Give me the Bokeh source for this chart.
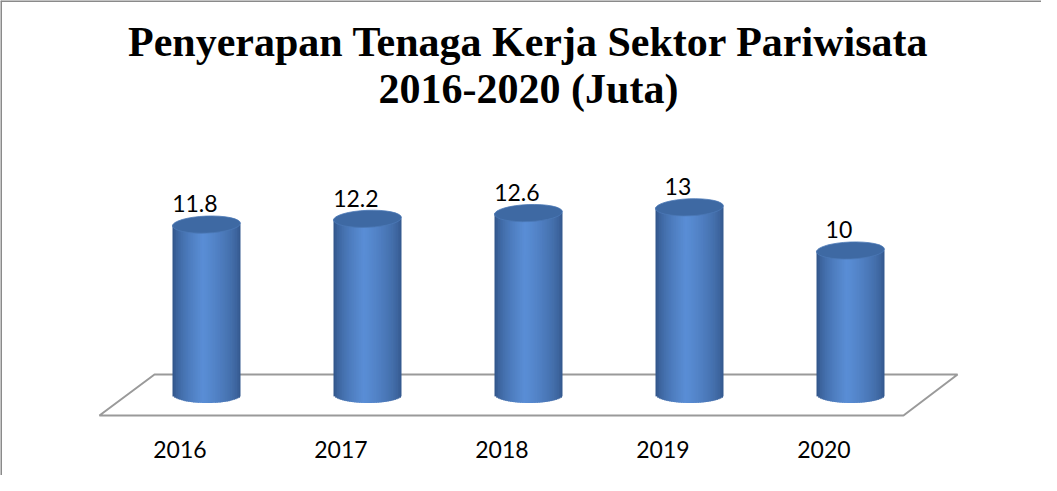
import numpy as np
from bokeh.plotting import figure
from bokeh.models import Range1d, Span
from bokeh.core.properties import value
from bokeh.embed import file_html
from bokeh.resources import INLINE

years = ["2016", "2017", "2018", "2019", "2020"]
workers = [11.8, 12.2, 12.6, 13, 10]
value_labels = ["11.8", "12.2", "12.6", "13", "10"]
title_lines = ["Penyerapan Tenaga Kerja Sektor Pariwisata", "2016-2020 (Juta)"]

W, H = 1041, 475
PX_PER_CAT = 161.0
PX_PER_UNIT = 14.4
X0_PX = 206.0   # canvas px of first category centre
Y0_PX = 394.0   # canvas px of value 0

x_start = -X0_PX / PX_PER_CAT
x_end = (W - X0_PX) / PX_PER_CAT
y_end = Y0_PX / PX_PER_UNIT
y_start = (Y0_PX - H) / PX_PER_UNIT

p = figure(width=W, height=H, output_backend="svg", toolbar_location=None,
           x_range=Range1d(x_start, x_end), y_range=Range1d(y_start, y_end),
           min_border=0)
p.axis.visible = False
p.grid.visible = False
p.outline_line_color = None
p.background_fill_color = "white"
p.border_fill_color = "white"

# chart area border (top and left visible)
p.add_layout(Span(location=y_end - 0.5 / PX_PER_UNIT, dimension="width",
                  line_color="#8a8a8a", line_width=2))
p.add_layout(Span(location=x_start + 0.5 / PX_PER_CAT, dimension="height",
                  line_color="#8a8a8a", line_width=2))

# floor (parallelogram)
p.patch(x=[-0.323, 4.665, 4.329, -0.665], y=[1.39, 1.39, -1.458, -1.458],
        fill_color="white", line_color="#9a9a9a", line_width=2)

# cylinders
half_w = 34.0 / PX_PER_CAT
half_h = 8.5 / PX_PER_UNIT
n_strips = 40
edges = np.linspace(-1, 1, n_strips + 1)
mids = 0.5 * (edges[:-1] + edges[1:])

dark_l = np.array([0x2c, 0x4e, 0x80])
light = np.array([0x5a, 0x8e, 0xd6])
dark_r = np.array([0x30, 0x53, 0x86])

def strip_color(t):
    peak = -0.1
    if t < peak:
        f = ((t + 1) / (peak + 1)) ** 0.55
        c = dark_l + (light - dark_l) * f
    else:
        f = ((1 - t) / (1 - peak)) ** 0.55
        c = dark_r + (light - dark_r) * f
    return "#%02x%02x%02x" % tuple(int(round(v)) for v in c)

colors = [strip_color(t) for t in mids]
overlap = 1.2 / PX_PER_CAT

lefts, rights, bottoms, tops, cols = [], [], [], [], []
for i, v in enumerate(workers):
    for k in range(n_strips):
        xl = i + edges[k] * half_w
        xr = i + edges[k + 1] * half_w
        if k < n_strips - 1:
            xr += overlap
        m = mids[k]
        yb = -half_h * np.sqrt(max(0.0, 1 - m * m))
        lefts.append(xl)
        rights.append(xr)
        bottoms.append(yb)
        tops.append(v)
        cols.append(colors[k])

p.quad(left=lefts, right=rights, bottom=bottoms, top=tops,
       fill_color=cols, line_color=None)

xs = list(range(len(years)))
p.ellipse(x=xs, y=workers, width=68, height=17, width_units="screen",
          height_units="screen", angle=0.04, fill_color="#3e69a3",
          line_color="#4b79b6", line_width=0.8)

# value labels
p.text(x=[i - 0.072 for i in xs], y=[v + 1.43 for v in workers], text=value_labels,
       text_font=value("Lato"), text_font_size="23px", text_align="center",
       text_baseline="alphabetic", text_color="black")

# category labels
p.text(x=[i - 0.165 for i in xs], y=[-3.84] * len(xs), text=years,
       text_font=value("Lato"), text_font_size="23px", text_align="center",
       text_baseline="alphabetic", text_color="black")

# title
p.text(x=[2.0, 2.0], y=[24.51, 21.25], text=title_lines,
       text_font=value("Liberation Serif"), text_font_size="42px",
       text_font_style="bold", text_align="center", text_baseline="alphabetic",
       text_color="black")

open("out.html", "w").write(file_html(p, INLINE))
